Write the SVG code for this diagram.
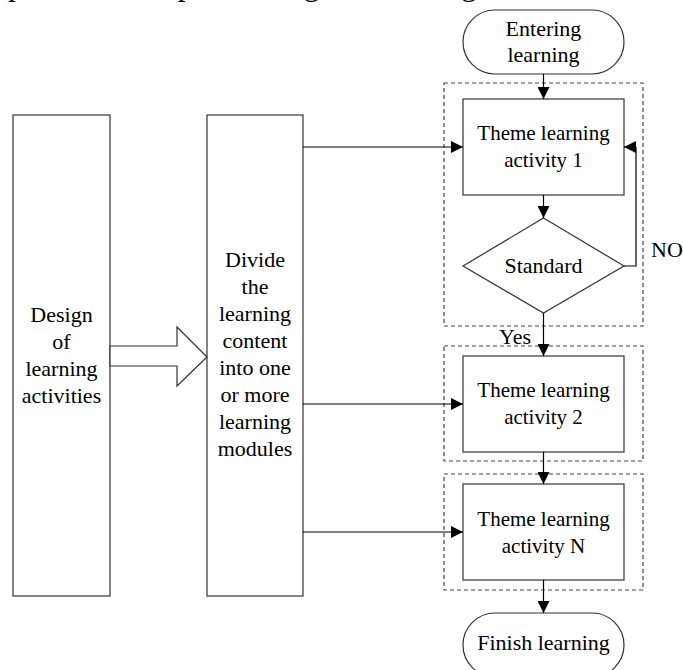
<svg xmlns="http://www.w3.org/2000/svg" width="683" height="670" viewBox="0 0 683 670">
<style>
text{font-family:"Liberation Serif","Times New Roman",serif;fill:#000;text-anchor:middle}
.t22{font-size:22px}
.t21{font-size:21px}
.box{fill:#fff;stroke:#333;stroke-width:1.2}
.dash{fill:none;stroke:#444;stroke-width:1.2;stroke-dasharray:4,3}
.ln{fill:none;stroke:#000;stroke-width:1.2}
</style>
<defs>
<marker id="ah" viewBox="0 0 12 12" refX="12" refY="6" markerWidth="12" markerHeight="12" markerUnits="userSpaceOnUse" orient="auto">
<path d="M0,0 L12,6 L0,12 Z" fill="#000"/>
</marker>
</defs>
<rect width="683" height="670" fill="#fff"/>
<text x="8" y="-5" style="font-size:31.5px;text-anchor:start">process of implementing the learning activities</text>

<g id="containers">
<rect class="dash" x="444" y="83" width="199" height="243"/>
<rect class="dash" x="444" y="346" width="199" height="115"/>
<rect class="dash" x="444" y="474" width="199" height="116"/>
</g>

<g id="design">
<rect class="box" x="13" y="115" width="97" height="481"/>
<text class="t22" x="61.5" y="322">Design</text>
<text class="t22" x="61.5" y="349">of</text>
<text class="t22" x="61.5" y="376">learning</text>
<text class="t22" x="61.5" y="403">activities</text>
</g>

<g id="divide">
<rect class="box" x="207" y="115" width="96" height="481"/>
<text class="t22" x="255" y="267">Divide</text>
<text class="t22" x="255" y="294">the</text>
<text class="t22" x="255" y="321">learning</text>
<text class="t22" x="255" y="348">content</text>
<text class="t22" x="255" y="375">into one</text>
<text class="t22" x="255" y="402">or more</text>
<text class="t22" x="255" y="429">learning</text>
<text class="t22" x="255" y="456">modules</text>
</g>

<g id="entering">
<rect class="box" x="463" y="10" width="161" height="64" rx="32" ry="32"/>
<text class="t22" x="543.5" y="36">Entering</text>
<text class="t22" x="543.5" y="62">learning</text>
</g>

<g id="activity1">
<rect class="box" x="463" y="99" width="161" height="96"/>
<text class="t21" x="543.5" y="140">Theme learning</text>
<text class="t21" x="543.5" y="167">activity 1</text>
</g>

<g id="standard">
<polygon class="box" points="543.5,218 624,266 543.5,313 463,266"/>
<text class="t22" x="543.5" y="273">Standard</text>
</g>

<g id="activity2">
<rect class="box" x="463" y="356" width="161" height="96"/>
<text class="t21" x="543.5" y="397">Theme learning</text>
<text class="t21" x="543.5" y="424">activity 2</text>
</g>

<g id="activityN">
<rect class="box" x="463" y="484" width="161" height="96"/>
<text class="t21" x="543.5" y="526">Theme learning</text>
<text class="t21" x="543.5" y="553">activity N</text>
</g>

<g id="finish">
<rect class="box" x="463" y="613" width="161" height="64" rx="32" ry="32"/>
<text class="t22" x="543.5" y="650">Finish learning</text>
</g>

<g id="connectors">
<polygon class="box" points="110,346 177,346 177,327 207,357 177,386 177,366 110,366"/>
<line class="ln" x1="303" y1="147" x2="463" y2="147" marker-end="url(#ah)"/>
<line class="ln" x1="303" y1="404" x2="463" y2="404" marker-end="url(#ah)"/>
<line class="ln" x1="303" y1="532" x2="463" y2="532" marker-end="url(#ah)"/>
<line class="ln" x1="543.5" y1="74" x2="543.5" y2="99" marker-end="url(#ah)"/>
<line class="ln" x1="543.5" y1="195" x2="543.5" y2="218" marker-end="url(#ah)"/>
<polyline class="ln" points="624,266 636,266 636,147 624,147" marker-end="url(#ah)"/>
<line class="ln" x1="543.5" y1="313" x2="543.5" y2="356" marker-end="url(#ah)"/>
<line class="ln" x1="543.5" y1="452" x2="543.5" y2="484" marker-end="url(#ah)"/>
<line class="ln" x1="543.5" y1="580" x2="543.5" y2="613" marker-end="url(#ah)"/>
<text class="t22" x="667" y="257">NO</text>
<text class="t22" x="515" y="344">Yes</text>
</g>
</svg>
